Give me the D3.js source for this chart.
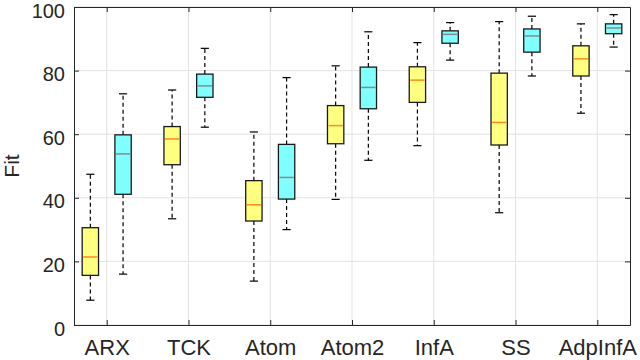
<!DOCTYPE html>
<html lang="en">
	<head>
		<title>Fit boxplot</title>
		<style>
			body { margin: 0; background: #fff; }
			text { font-family: "Liberation Sans", Arial, sans-serif; fill: #262626; }
			.grid line { stroke: #e3e3e3; stroke-width: 1px; }
			.axis path, .axis line { stroke: #262626; }
			.whisker { stroke: #000; stroke-width: 1.2px; stroke-dasharray: 4,3; }
			.cap { stroke: #000; stroke-width: 1.2px; }
			.box { stroke: #1a1a1a; stroke-width: 1.3px; }
		</style>
	</head>
	<body>
		<div id="graphic"></div>
		<script src="https://cdnjs.cloudflare.com/ajax/libs/d3/7.8.5/d3.min.js"></script>
		<script>
			var categories = ['ARX', 'TCK', 'Atom', 'Atom2', 'InfA', 'SS', 'AdpInfA'];

			// yellow boxes
			var yLow  = [7.8, 33.4, 13.8, 39.5, 56.4, 35.3, 66.6];
			var yQ1   = [15.6, 50.4, 32.7, 57.0, 70.0, 56.6, 78.3];
			var yMed  = [21.4, 58.5, 37.8, 62.7, 77.0, 63.7, 83.7];
			var yQ3   = [30.6, 62.4, 45.4, 69.0, 81.2, 79.2, 87.8];
			var yHigh = [47.4, 73.9, 60.7, 81.5, 88.8, 95.4, 94.7];

			// cyan boxes
			var cLow  = [16.0, 62.2, 30.0, 51.8, 83.3, 78.3, 87.4];
			var cQ1   = [41.1, 71.6, 39.6, 68.0, 88.6, 85.8, 91.6];
			var cMed  = [53.8, 75.2, 46.4, 74.7, 91.4, 90.9, 93.4];
			var cQ3   = [59.8, 78.9, 56.8, 81.1, 92.5, 93.1, 94.7];
			var cHigh = [72.7, 87.0, 77.8, 92.2, 95.1, 97.1, 97.6];

			var yTicks = [0, 20, 40, 60, 80, 100];

			var width = 640, height = 360,
				mLeft = 74, mRight = 630, mTop = 7, mBottom = 325;

			var svg = d3.select('#graphic').append('svg')
				.attr('width', width).attr('height', height);

			var x = d3.scaleLinear().domain([0.6, categories.length + 0.4]).range([mLeft, mRight]);
			var y = d3.scaleLinear().domain([0, 100]).range([mBottom, mTop]);

			// grid
			var grid = svg.append('g').attr('class', 'grid');
			grid.selectAll('.gx').data(categories).enter().append('line')
				.attr('x1', function(d, i) { return x(i + 1); })
				.attr('x2', function(d, i) { return x(i + 1); })
				.attr('y1', mTop).attr('y2', mBottom);
			grid.selectAll('.gy').data(yTicks).enter().append('line')
				.attr('x1', mLeft).attr('x2', mRight)
				.attr('y1', function(d) { return y(d); })
				.attr('y2', function(d) { return y(d); });

			var series = [
				{ low: yLow, q1: yQ1, med: yMed, q3: yQ3, high: yHigh, off: -0.2, fill: '#ffff80', median: '#ff8c1a' },
				{ low: cLow, q1: cQ1, med: cMed, q3: cQ3, high: cHigh, off: 0.2, fill: '#80ffff', median: '#8a8a8a' }
			];

			var bw = 0.2;

			series.forEach(function(s) {
				var g = svg.append('g');
				var items = categories.map(function(c, i) {
					return { i: i, low: s.low[i], q1: s.q1[i], med: s.med[i], q3: s.q3[i], high: s.high[i] };
				});
				var cx = function(d) { return x(d.i + 1 + s.off); };
				var half = x(bw / 2) - x(0);
				var cap = half / 2;

				// whiskers
				g.selectAll('.wl').data(items).enter().append('line').attr('class', 'whisker')
					.attr('x1', cx).attr('x2', cx)
					.attr('y1', function(d) { return y(d.q1); })
					.attr('y2', function(d) { return y(d.low); });
				g.selectAll('.wh').data(items).enter().append('line').attr('class', 'whisker')
					.attr('x1', cx).attr('x2', cx)
					.attr('y1', function(d) { return y(d.q3); })
					.attr('y2', function(d) { return y(d.high); });
				['low', 'high'].forEach(function(k) {
					g.selectAll('.c' + k).data(items).enter().append('line').attr('class', 'cap')
						.attr('x1', function(d) { return cx(d) - cap; })
						.attr('x2', function(d) { return cx(d) + cap; })
						.attr('y1', function(d) { return y(d[k]); })
						.attr('y2', function(d) { return y(d[k]); });
				});

				// boxes
				g.selectAll('.box').data(items).enter().append('rect').attr('class', 'box')
					.attr('x', function(d) { return cx(d) - half; })
					.attr('width', half * 2)
					.attr('y', function(d) { return y(d.q3); })
					.attr('height', function(d) { return y(d.q1) - y(d.q3); })
					.attr('fill', s.fill);

				// medians
				g.selectAll('.med').data(items).enter().append('line')
					.attr('x1', function(d) { return cx(d) - half + 1; })
					.attr('x2', function(d) { return cx(d) + half - 1; })
					.attr('y1', function(d) { return y(d.med); })
					.attr('y2', function(d) { return y(d.med); })
					.attr('stroke', s.median).attr('stroke-width', 1.5);
			});

			// axes (ticks point inward, box on)
			var xb = d3.axisBottom(x).tickValues(d3.range(1, categories.length + 1))
				.tickFormat(function(d) { return categories[d - 1]; })
				.tickSizeInner(-5).tickSizeOuter(0).tickPadding(14);
			var xt = d3.axisTop(x).tickValues(d3.range(1, categories.length + 1))
				.tickFormat('').tickSizeInner(-5).tickSizeOuter(0);
			var yl = d3.axisLeft(y).tickValues(yTicks)
				.tickSizeInner(-5).tickSizeOuter(0).tickPadding(9);
			var yr = d3.axisRight(y).tickValues(yTicks)
				.tickFormat('').tickSizeInner(-5).tickSizeOuter(0);

			var gxb = svg.append('g').attr('class', 'axis').attr('transform', 'translate(0,' + mBottom + ')').call(xb);
			svg.append('g').attr('class', 'axis').attr('transform', 'translate(0,' + mTop + ')').call(xt);
			var gyl = svg.append('g').attr('class', 'axis').attr('transform', 'translate(' + mLeft + ',0)').call(yl);
			svg.append('g').attr('class', 'axis').attr('transform', 'translate(' + mRight + ',0)').call(yr);

			gxb.selectAll('text')
				.style('font-family', '"Liberation Sans", Arial, sans-serif')
				.style('font-size', '22px').attr('fill', '#262626');
			gyl.selectAll('text')
				.style('font-family', '"Liberation Sans", Arial, sans-serif')
				.style('font-size', '20px').attr('fill', '#262626')
				.attr('dy', '0.5em');

			svg.append('text')
				.attr('transform', 'translate(19,' + ((mTop + mBottom) / 2) + ') rotate(-90)')
				.attr('text-anchor', 'middle')
				.style('font-size', '21px')
				.text('Fit');
		</script>
	</body>
</html>
